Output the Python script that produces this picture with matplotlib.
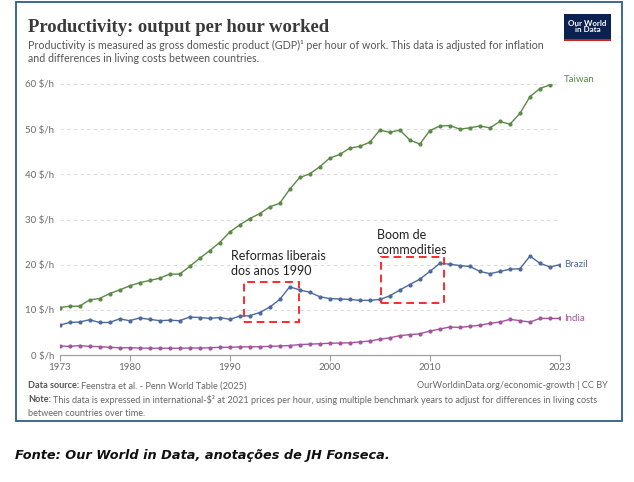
import matplotlib
matplotlib.use("Agg")
import matplotlib.pyplot as plt
from matplotlib.patches import Rectangle

W, H = 634, 482

years = list(range(1973, 2024))
taiwan = [10.5, 10.8, 10.8, 12.2, 12.5, 13.6, 14.4, 15.3, 16.0, 16.5,
          17.0, 17.9, 17.9, 19.6, 21.4, 23.1, 24.9, 27.2, 28.8, 30.2,
          31.3, 32.8, 33.6, 36.7, 39.3, 40.1, 41.7, 43.6, 44.4, 45.8,
          46.2, 47.1, 49.8, 49.3, 49.8, 47.6, 46.7, 49.7, 50.7, 50.8,
          50.0, 50.3, 50.7, 50.3, 51.7, 51.1, 53.5, 57.2, 59.0, 59.8, 60.9]
brazil = [6.6, 7.2, 7.3, 7.8, 7.2, 7.2, 8.0, 7.6, 8.2, 7.9,
          7.6, 7.7, 7.6, 8.4, 8.3, 8.1, 8.3, 7.9, 8.6, 8.7,
          9.4, 10.6, 12.3, 15.1, 14.4, 13.9, 12.9, 12.5, 12.4, 12.3,
          12.1, 12.1, 12.3, 13.1, 14.4, 15.6, 16.8, 18.5, 20.3, 20.1,
          19.8, 19.6, 18.5, 18.0, 18.5, 19.0, 19.1, 21.9, 20.3, 19.5, 20.0]
india = [2.0, 1.9, 2.1, 1.9, 1.85, 1.7, 1.6, 1.6, 1.55, 1.5,
         1.5, 1.5, 1.5, 1.55, 1.55, 1.6, 1.7, 1.7, 1.8, 1.8,
         1.85, 1.9, 2.0, 2.1, 2.3, 2.4, 2.5, 2.6, 2.65, 2.7,
         2.9, 3.1, 3.5, 3.8, 4.3, 4.5, 4.7, 5.3, 5.75, 6.2,
         6.1, 6.35, 6.6, 7.0, 7.3, 7.9, 7.6, 7.3, 8.1, 8.1, 8.1]

series = [("Taiwan", taiwan, "#5b8a46"), ("Brazil", brazil, "#4c6a9c"), ("India", india, "#a2559c")]
xticks = [1973, 1980, 1990, 2000, 2010, 2023]
yticks = [0, 10, 20, 30, 40, 50, 60]

# annotation boxes: (x0, x1, y0, y1) in data units, label, label anchor
boxes = [((1991.4, 1996.9, 7.2, 16.1), "Reformas liberais\ndos anos 1990", (1990.1, 17.35)),
         ((2005.1, 2011.4, 11.6, 21.8), "Boom de\ncommodities", (2004.7, 22.0))]

GREY = "#6b6b6b"
FOOT = 6.6


def fx(x):
    return x / W


def fy(y):
    return 1 - y / H


fig = plt.figure(figsize=(W / 100, H / 100), dpi=100)
fig.patch.set_facecolor("white")

ax = fig.add_axes([fx(59.5), fy(355), (560 - 59.5) / W, (355 - 84) / H])
ax.set_xlim(1973, 2023)
ax.set_ylim(0, 60)

for y in yticks[1:]:
    ax.axhline(y, color="#dcdcdc", lw=0.8, ls=(0, (3, 3)), zorder=0)

for name, vals, col in series:
    ax.plot(years, vals, color=col, lw=1.0, marker="o", ms=2.0, zorder=3)
    ax.text(2023.4, vals[-1], name, color=col, fontsize=7, family="Lato",
            va="center", ha="left", clip_on=False)

for (x0, x1, y0, y1), label, (tx, ty) in boxes:
    ax.add_patch(Rectangle((x0, y0), x1 - x0, y1 - y0, fill=False, ec="#ff2a2a",
                           lw=1.4, ls=(0, (4, 2.5)), zorder=4))
    ax.text(tx, ty, label, fontsize=9, family="Lato", color="#222222",
            va="bottom", ha="left", linespacing=1.3, zorder=5)

for s in ["top", "right", "left"]:
    ax.spines[s].set_visible(False)
ax.spines["bottom"].set_color("#a0a0a0")
ax.spines["bottom"].set_linewidth(0.9)
ax.set_xticks(xticks)
ax.set_xticklabels([str(x) for x in xticks])
ax.set_yticks(yticks)
ax.set_yticklabels([f"{y} $/h" for y in yticks])
ax.tick_params(axis="x", colors="#a0a0a0", length=4, width=0.8, labelcolor=GREY,
               labelsize=7, pad=1.5)
ax.tick_params(axis="y", length=0, labelcolor=GREY, labelsize=7, pad=4)
for lab in ax.get_xticklabels() + ax.get_yticklabels():
    lab.set_family("Lato")

# title and subtitle
fig.text(fx(28), fy(32), "Productivity: output per hour worked", family="Liberation Serif",
         fontsize=13.4, fontweight="bold", color="#3a3a3a", va="baseline", ha="left")
fig.text(fx(28), fy(45), "Productivity is measured as gross domestic product (GDP)¹ per hour of work. "
         "This data is adjusted for inflation", family="Lato", fontsize=7.65, color="#555555",
         va="center", ha="left")
fig.text(fx(28), fy(58.5), "and differences in living costs between countries.", family="Lato",
         fontsize=7.65, color="#555555", va="center", ha="left")

# logo
fig.patches.append(Rectangle((fx(564), fy(39)), 47 / W, 25 / H, transform=fig.transFigure,
                             fc="#0b2150", ec="none"))
fig.patches.append(Rectangle((fx(564), fy(41)), 47 / W, 2.5 / H, transform=fig.transFigure,
                             fc="#ce261e", ec="none"))
fig.text(fx(587.5), fy(26.5), "Our World\nin Data", family="Lato", fontsize=5.8,
         fontweight="bold", color="white", ha="center", va="center", linespacing=1.0)

# footer
renderer = fig.canvas.get_renderer()
t1 = fig.text(fx(28), fy(386), "Data source:", family="Lato", fontsize=FOOT, fontweight="bold",
              color="#555555", va="center", ha="left")
bb = t1.get_window_extent(renderer)
fig.text((bb.x1 + 2) / W, fy(386), "Feenstra et al. - Penn World Table (2025)", family="Lato",
         fontsize=FOOT, color="#666666", va="center", ha="left")
fig.text(fx(608), fy(386), "OurWorldinData.org/economic-growth | CC BY", family="Lato",
         fontsize=FOOT, color="#666666", va="center", ha="right")
t2 = fig.text(fx(28), fy(400), "Note:", family="Lato", fontsize=FOOT, fontweight="bold",
              color="#555555", va="center", ha="left")
bb = t2.get_window_extent(renderer)
fig.text((bb.x1 + 2) / W, fy(400), "This data is expressed in international-$² at 2021 prices per hour, "
         "using multiple benchmark years to adjust for differences in living costs",
         family="Lato", fontsize=FOOT, color="#666666", va="center", ha="left")
fig.text(fx(28), fy(413), "between countries over time.", family="Lato", fontsize=FOOT,
         color="#666666", va="center", ha="left")

# frame
fig.patches.append(Rectangle((fx(16), fy(421)), (622 - 16) / W, (421 - 1.5) / H,
                             transform=fig.transFigure, fill=False, ec="#2c5e88", lw=1.3))

fig.text(fx(15), fy(456), "Fonte: Our World in Data, anotações de JH Fonseca.", family="DejaVu Sans",
         fontsize=9.3, fontweight="bold", style="italic", color="#111111", va="center", ha="left")

fig.savefig("out.png", dpi=100)
